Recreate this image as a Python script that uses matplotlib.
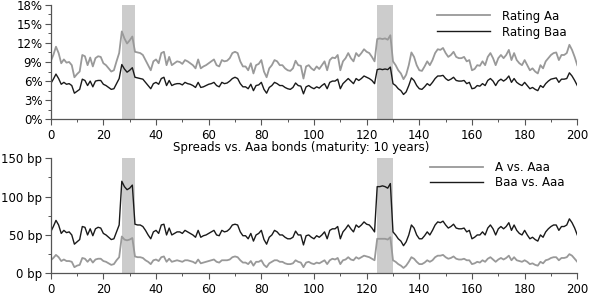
import numpy as np
import matplotlib
matplotlib.use("Agg")
import matplotlib.pyplot as plt
from matplotlib.ticker import MultipleLocator, FuncFormatter

# maturity axis 0..200
t = np.arange(201)

# yields (%)
rating_aa = [9.1, 10.1, 11.4, 10.4, 8.8, 9.4, 8.9, 9.0, 8.5, 6.6,
             7.1, 7.5, 10.1, 9.9, 8.5, 9.7, 8.3, 9.6, 9.9, 9.8,
             8.8, 8.5, 8.0, 7.5, 7.7, 9.1, 10.4, 13.8, 12.7, 11.9,
             12.4, 13.0, 10.6, 10.5, 10.4, 10.1, 9.3, 8.5, 7.7, 9.1,
             9.4, 8.8, 10.4, 10.6, 8.5, 9.8, 8.5, 8.8, 9.1, 9.0,
             8.7, 9.3, 9.1, 8.8, 8.5, 8.0, 9.4, 8.0, 8.3, 8.5,
             8.8, 9.1, 9.4, 8.5, 8.3, 9.3, 9.1, 9.2, 9.6, 10.4,
             10.6, 10.4, 9.1, 8.3, 8.3, 7.7, 8.8, 7.2, 8.5, 8.7,
             9.3, 7.5, 6.6, 8.0, 8.5, 9.3, 9.1, 8.5, 8.5, 8.0,
             7.7, 7.6, 8.0, 9.2, 8.5, 8.4, 6.4, 8.3, 8.5, 8.0,
             7.7, 8.3, 7.9, 8.5, 9.1, 7.7, 9.3, 9.7, 9.6, 10.1,
             7.7, 9.1, 9.6, 10.4, 9.6, 9.1, 10.4, 9.9, 10.4, 11.0,
             10.6, 10.4, 9.8, 9.1, 12.6, 12.7, 12.6, 12.7, 12.5, 13.2,
             9.1, 8.5, 7.7, 7.2, 6.3, 7.0, 8.5, 10.5, 9.8, 8.5,
             7.7, 7.6, 8.3, 9.1, 8.5, 9.3, 10.4, 11.0, 10.9, 11.2,
             10.4, 9.8, 10.1, 10.6, 9.8, 9.6, 9.6, 9.8, 9.1, 9.3,
             7.7, 7.9, 8.5, 8.4, 9.1, 8.5, 9.8, 10.4, 9.6, 8.5,
             9.6, 10.1, 9.6, 10.1, 10.9, 9.3, 10.4, 9.3, 8.8, 8.5,
             9.3, 8.5, 7.7, 8.0, 7.5, 7.2, 8.5, 8.0, 9.1, 9.6,
             10.1, 10.4, 10.5, 9.3, 10.1, 10.1, 10.4, 11.7, 10.9, 9.8,
             8.5]

rating_baa = [5.6, 6.3, 7.1, 6.4, 5.5, 5.8, 5.5, 5.6, 5.3, 4.1,
              4.4, 4.7, 6.3, 6.1, 5.3, 6.0, 5.1, 6.0, 6.1, 6.1,
              5.5, 5.3, 5.0, 4.7, 4.8, 5.6, 6.4, 8.6, 7.9, 7.4,
              7.7, 8.1, 6.6, 6.5, 6.4, 6.3, 5.8, 5.3, 4.8, 5.6,
              5.8, 5.5, 6.4, 6.6, 5.3, 6.1, 5.3, 5.5, 5.6, 5.6,
              5.4, 5.8, 5.6, 5.5, 5.3, 5.0, 5.8, 5.0, 5.1, 5.3,
              5.5, 5.6, 5.8, 5.3, 5.1, 5.8, 5.6, 5.7, 6.0, 6.4,
              6.6, 6.4, 5.6, 5.1, 5.1, 4.8, 5.5, 4.5, 5.3, 5.4,
              5.8, 4.7, 4.1, 5.0, 5.3, 5.8, 5.6, 5.3, 5.3, 5.0,
              4.8, 4.7, 5.0, 5.7, 5.3, 5.2, 4.0, 5.1, 5.3, 5.0,
              4.8, 5.1, 4.9, 5.3, 5.6, 4.8, 5.8, 6.0, 6.0, 6.3,
              4.8, 5.6, 6.0, 6.4, 6.0, 5.6, 6.4, 6.1, 6.4, 6.8,
              6.6, 6.4, 6.1, 5.6, 7.8, 7.9, 7.8, 7.9, 7.8, 8.2,
              5.6, 5.3, 4.8, 4.5, 3.9, 4.3, 5.3, 6.5, 6.1, 5.3,
              4.8, 4.7, 5.1, 5.6, 5.3, 5.8, 6.4, 6.8, 6.8, 6.9,
              6.4, 6.1, 6.3, 6.6, 6.1, 6.0, 6.0, 6.1, 5.6, 5.8,
              4.8, 4.9, 5.3, 5.2, 5.6, 5.3, 6.1, 6.4, 6.0, 5.3,
              6.0, 6.3, 6.0, 6.3, 6.8, 5.8, 6.4, 5.8, 5.5, 5.3,
              5.8, 5.3, 4.8, 5.0, 4.7, 4.5, 5.3, 5.0, 5.6, 6.0,
              6.3, 6.4, 6.5, 5.8, 6.3, 6.3, 6.4, 7.3, 6.8, 6.1,
              5.3]

# spreads (bp)
a_vs_aaa = [17, 20, 24, 21, 16, 18, 16, 16, 15, 8,
            10, 11, 20, 19, 15, 19, 14, 18, 19, 19,
            16, 15, 13, 11, 12, 17, 21, 48, 44, 43,
            44, 46, 22, 21, 21, 20, 17, 15, 12, 17,
            18, 16, 21, 22, 15, 19, 15, 16, 17, 16,
            15, 17, 17, 16, 15, 13, 18, 13, 14, 15,
            16, 17, 18, 15, 14, 17, 17, 17, 18, 21,
            22, 21, 17, 14, 14, 12, 16, 10, 15, 15,
            17, 11, 8, 13, 15, 17, 17, 15, 15, 13,
            12, 12, 13, 17, 15, 14, 8, 14, 15, 13,
            12, 14, 13, 15, 17, 12, 17, 19, 18, 20,
            12, 17, 18, 21, 18, 17, 21, 19, 21, 23,
            22, 21, 19, 17, 45, 45, 45, 45, 44, 47,
            17, 15, 12, 10, 7, 10, 15, 21, 19, 15,
            12, 12, 14, 17, 15, 17, 21, 23, 23, 24,
            21, 19, 20, 22, 19, 18, 18, 19, 17, 17,
            12, 13, 15, 14, 17, 15, 19, 21, 18, 15,
            18, 20, 18, 20, 23, 17, 21, 17, 16, 15,
            17, 15, 12, 13, 11, 10, 15, 13, 17, 18,
            20, 21, 21, 17, 20, 20, 21, 25, 23, 19,
            15]

baa_vs_aaa = [54, 61, 69, 63, 52, 56, 53, 54, 50, 38,
              41, 44, 61, 60, 50, 58, 49, 58, 60, 59,
              52, 50, 47, 44, 45, 54, 63, 120, 113, 109,
              111, 115, 64, 63, 63, 61, 56, 50, 45, 54,
              56, 52, 63, 64, 50, 59, 50, 52, 54, 54,
              52, 56, 54, 52, 50, 47, 56, 47, 49, 50,
              52, 54, 56, 50, 49, 56, 54, 55, 58, 63,
              64, 63, 54, 49, 49, 45, 52, 42, 50, 52,
              56, 44, 38, 47, 50, 56, 54, 50, 50, 47,
              45, 45, 47, 55, 50, 50, 37, 49, 50, 47,
              45, 49, 47, 50, 54, 45, 56, 58, 58, 61,
              45, 54, 58, 63, 58, 54, 63, 60, 63, 67,
              64, 63, 59, 54, 113, 113, 114, 113, 111, 117,
              54, 50, 45, 42, 36, 41, 50, 63, 59, 50,
              45, 45, 49, 54, 50, 56, 63, 67, 66, 68,
              63, 59, 61, 64, 59, 58, 58, 59, 54, 56,
              45, 47, 50, 50, 54, 50, 59, 63, 58, 50,
              58, 61, 58, 61, 66, 56, 63, 56, 52, 50,
              56, 50, 45, 47, 44, 42, 50, 47, 54, 58,
              61, 63, 63, 56, 61, 61, 63, 71, 66, 59,
              50]

# shaded periods
shade = [(27, 32), (124, 130)]

plt.rcParams['font.family'] = ['DejaVu Sans']
plt.rcParams['font.size'] = 8.5

gray = '#999999'
dark = '#1a1a1a'

fig = plt.figure(figsize=(5.91, 3.02), dpi=100)
ax1 = fig.add_axes([0.0858, 0.605, 0.891, 0.3795])
ax2 = fig.add_axes([0.0858, 0.095, 0.891, 0.381])

def style(ax):
    for s in ['top', 'right']:
        ax.spines[s].set_visible(False)
    for s in ['left', 'bottom']:
        ax.spines[s].set_color('#555555')
        ax.spines[s].set_linewidth(0.9)
    ax.set_xlim(0, 200)
    ax.xaxis.set_major_locator(MultipleLocator(20))
    ax.xaxis.set_minor_locator(MultipleLocator(10))
    ax.tick_params(which='major', length=4, width=0.8, color='#555555')
    ax.tick_params(axis='x', which='major', pad=3)
    ax.tick_params(axis='y', which='major', pad=2)
    ax.tick_params(which='minor', length=2.5, width=0.7, color='#555555')
    for a, b in shade:
        ax.axvspan(a, b, color='#cccccc', lw=0, zorder=0)

style(ax1)
ax1.plot(t, rating_aa, color=gray, lw=1.3, label='Rating Aa')
ax1.plot(t, rating_baa, color=dark, lw=1.0, label='Rating Baa')
ax1.set_ylim(0, 18)
ax1.yaxis.set_major_locator(MultipleLocator(3))
ax1.yaxis.set_minor_locator(MultipleLocator(1.5))
ax1.yaxis.set_major_formatter(FuncFormatter(lambda v, p: f'{v:.0f}%'))
ax1.legend(loc='upper right', bbox_to_anchor=(1.0, 1.05), frameon=False,
           handlelength=4.5, handletextpad=1.0, labelspacing=0.25)

style(ax2)
ax2.plot(t, a_vs_aaa, color=gray, lw=1.3, label='A vs. Aaa')
ax2.plot(t, baa_vs_aaa, color=dark, lw=1.0, label='Baa vs. Aaa')
ax2.set_ylim(0, 150)
ax2.yaxis.set_major_locator(MultipleLocator(50))
ax2.yaxis.set_minor_locator(MultipleLocator(25))
ax2.yaxis.set_major_formatter(FuncFormatter(lambda v, p: f'{v:.0f} bp'))
ax2.legend(loc='upper right', bbox_to_anchor=(0.995, 1.07), frameon=False,
           handlelength=4.5, handletextpad=1.0, labelspacing=0.2)

fig.text(0.509, 0.513, 'Spreads vs. Aaa bonds (maturity: 10 years)',
         ha='center', va='center', fontsize=8.5)

fig.savefig('out.png', dpi=100)
